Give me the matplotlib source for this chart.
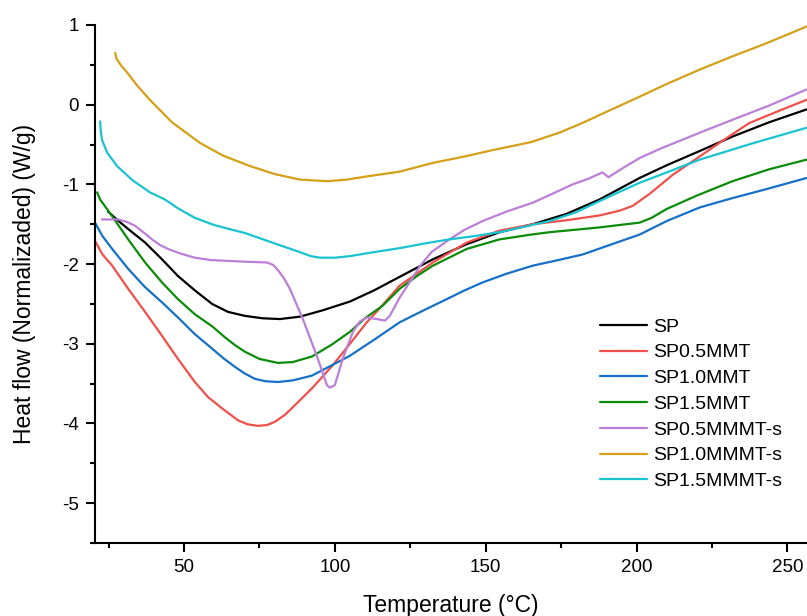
import matplotlib
matplotlib.use("Agg")
import matplotlib.pyplot as plt
from matplotlib.ticker import MultipleLocator

plt.rcParams['font.family'] = ['Liberation Sans', 'DejaVu Sans']
plt.rcParams['axes.unicode_minus'] = False

labels = ["SP", "SP0.5MMT", "SP1.0MMT", "SP1.5MMT", "SP0.5MMMT-s", "SP1.0MMMT-s", "SP1.5MMMT-s"]
colors = ["#000000", "#f0504a", "#1570c8", "#0a8c0a", "#bb7fd8", "#d4a017", "#19c3d0"]

sp_x = [24.8, 28, 31.5, 37.1, 42.7, 48, 53.6, 59.3, 64.6, 70.2, 76, 81.8, 88.4, 96, 105, 113, 121.5, 132.5, 143.7, 154.6, 165.6, 176.8, 187.7, 201, 210, 221, 231.8, 244, 256.3]
sp_y = [-1.34, -1.45, -1.56, -1.73, -1.94, -2.15, -2.33, -2.50, -2.60, -2.65, -2.68, -2.69, -2.66, -2.58, -2.47, -2.33, -2.16, -1.94, -1.75, -1.60, -1.50, -1.37, -1.19, -0.92, -0.76, -0.58, -0.40, -0.22, -0.06]

sp05_x = [20.5, 23, 26.2, 31.5, 37.1, 42.7, 48, 53.6, 58, 62.6, 67.9, 71, 74.5, 77.5, 80.1, 83.5, 86.8, 92.4, 99.3, 105, 110.6, 115, 121.5, 132.5, 143.7, 154.6, 165.6, 176.8, 187.7, 194.4, 198.7, 204.3, 212, 220.9, 229, 237.4, 247, 256.3]
sp05_y = [-1.71, -1.88, -2.02, -2.31, -2.60, -2.90, -3.19, -3.48, -3.67, -3.81, -3.96, -4.01, -4.03, -4.02, -3.98, -3.89, -3.77, -3.56, -3.27, -3.0, -2.73, -2.55, -2.27, -1.98, -1.73, -1.58, -1.50, -1.45, -1.39, -1.33, -1.27, -1.12, -0.88, -0.65, -0.44, -0.23, -0.08, 0.06]

sp10_x = [20.5, 23, 26.2, 31.5, 37.1, 42.7, 48, 53.6, 59.3, 63, 66.9, 70, 73.5, 77, 81.1, 86, 92.4, 99, 105, 113, 121.5, 130, 137.1, 143, 149, 157, 165.6, 174, 182.1, 193.4, 201, 210, 220.9, 232, 243, 256.3]
sp10_y = [-1.48, -1.65, -1.81, -2.06, -2.29, -2.48, -2.67, -2.88, -3.06, -3.18, -3.29, -3.37, -3.44, -3.47, -3.48, -3.46, -3.40, -3.27, -3.15, -2.95, -2.73, -2.57, -2.44, -2.33, -2.23, -2.12, -2.02, -1.95, -1.88, -1.73, -1.63, -1.46, -1.29, -1.17, -1.06, -0.92]

sp15_x = [21.2, 22.2, 26.2, 31.5, 37.1, 42.7, 48, 53.6, 59.3, 63.6, 67, 70.2, 75, 81.1, 86, 92.4, 99, 105, 110, 115.9, 121.5, 127.2, 132.5, 143.7, 154.6, 165, 171.2, 187.7, 201, 205, 209.9, 220, 231.8, 244, 256.3]
sp15_y = [-1.1, -1.19, -1.40, -1.69, -1.98, -2.23, -2.44, -2.63, -2.78, -2.92, -3.02, -3.10, -3.19, -3.24, -3.23, -3.16, -3.01, -2.85, -2.68, -2.52, -2.31, -2.15, -2.02, -1.81, -1.69, -1.63, -1.60, -1.54, -1.48, -1.42, -1.31, -1.14, -0.96, -0.81, -0.69]

sp05s_x = [22.8, 28.2, 31, 33.8, 36.5, 39.4, 42, 44.7, 49, 53.6, 59, 64.6, 70.2, 77.5, 79.5, 80.8, 83, 85.1, 89.4, 94.0, 97.4, 98.3, 100.0, 102.6, 106.0, 108.3, 110.6, 113.9, 116.6, 118.2, 121.5, 125.8, 128.1, 132, 138, 143, 149, 157, 165.6, 172, 178.8, 184, 188.7, 190.7, 194, 197, 201, 208, 215.2, 223, 231.8, 244, 256.3]
sp05s_y = [-1.44, -1.44, -1.47, -1.52, -1.60, -1.69, -1.76, -1.81, -1.87, -1.92, -1.95, -1.96, -1.97, -1.98, -2.01, -2.06, -2.17, -2.31, -2.69, -3.15, -3.52, -3.55, -3.52, -3.19, -2.85, -2.72, -2.67, -2.69, -2.71, -2.65, -2.42, -2.17, -2.03, -1.85, -1.69, -1.57, -1.46, -1.34, -1.23, -1.12, -1.00, -0.93, -0.85, -0.91, -0.83, -0.76, -0.67, -0.55, -0.44, -0.32, -0.19, -0.01, 0.19]

sp10s_x = [27.2, 27.6, 29, 31, 34.5, 38.7, 46, 55.3, 63, 71.9, 80, 88.4, 97.3, 104, 110.6, 121.5, 132.5, 143, 152.3, 165, 174.5, 182, 190, 198.7, 210, 220.9, 232, 243, 256.3]
sp10s_y = [0.65, 0.58, 0.50, 0.41, 0.24, 0.06, -0.22, -0.48, -0.64, -0.77, -0.87, -0.94, -0.96, -0.94, -0.90, -0.84, -0.73, -0.65, -0.57, -0.47, -0.35, -0.23, -0.09, 0.06, 0.26, 0.44, 0.61, 0.77, 0.98]

sp15s_x = [22.2, 22.4, 22.8, 24.5, 27.8, 33, 38.7, 43.7, 48, 53.6, 60, 65, 70.2, 80, 88.4, 92, 95, 100, 105, 113, 121.5, 130, 138, 146, 154.6, 163, 171.2, 180, 187.7, 194, 201, 210, 220.9, 238, 256.3]
sp15s_y = [-0.21, -0.32, -0.44, -0.60, -0.77, -0.95, -1.10, -1.19, -1.30, -1.42, -1.51, -1.56, -1.61, -1.74, -1.85, -1.90, -1.92, -1.92, -1.90, -1.85, -1.80, -1.74, -1.69, -1.65, -1.60, -1.53, -1.46, -1.35, -1.21, -1.10, -0.98, -0.85, -0.69, -0.49, -0.29]

series_x = [sp_x, sp05_x, sp10_x, sp15_x, sp05s_x, sp10s_x, sp15s_x]
series_y = [sp_y, sp05_y, sp10_y, sp15_y, sp05s_y, sp10s_y, sp15s_y]

fig = plt.figure(figsize=(8.07, 6.16), dpi=100)
ax = fig.add_axes([95/807, 73/616, 712/807, 518/616])

for xs, ys, lab, c in zip(series_x, series_y, labels, colors):
    ax.plot(xs, ys, color=c, lw=1.6, label=lab, solid_joinstyle='round', solid_capstyle='round')

ax.set_xlim(20.5, 256.5)
ax.set_ylim(-5.5, 1)
ax.xaxis.set_major_locator(MultipleLocator(50))
ax.xaxis.set_minor_locator(MultipleLocator(25))
ax.yaxis.set_major_locator(MultipleLocator(1))
ax.yaxis.set_minor_locator(MultipleLocator(0.5))

for s in ['top', 'right']:
    ax.spines[s].set_visible(False)
for s in ['left', 'bottom']:
    ax.spines[s].set_linewidth(1.5)

ax.tick_params(which='major', direction='out', length=6.5, width=1.5, labelsize=13.5, pad=5)
ax.tick_params(which='minor', direction='out', length=3.5, width=1.5)

ax.set_xlabel("Temperature (°C)", fontsize=16.5, labelpad=13)
ax.set_ylabel("Heat flow (Normalizaded) (W/g)", fontsize=16.5, labelpad=19)

leg = ax.legend(loc='upper left', bbox_to_anchor=(600/807, (616 - 318)/616), bbox_transform=fig.transFigure,
                frameon=False, fontsize=14, handlelength=2.4, handletextpad=0.35,
                labelspacing=0.42, borderpad=0, borderaxespad=0)

fig.savefig("out.png", dpi=100)
